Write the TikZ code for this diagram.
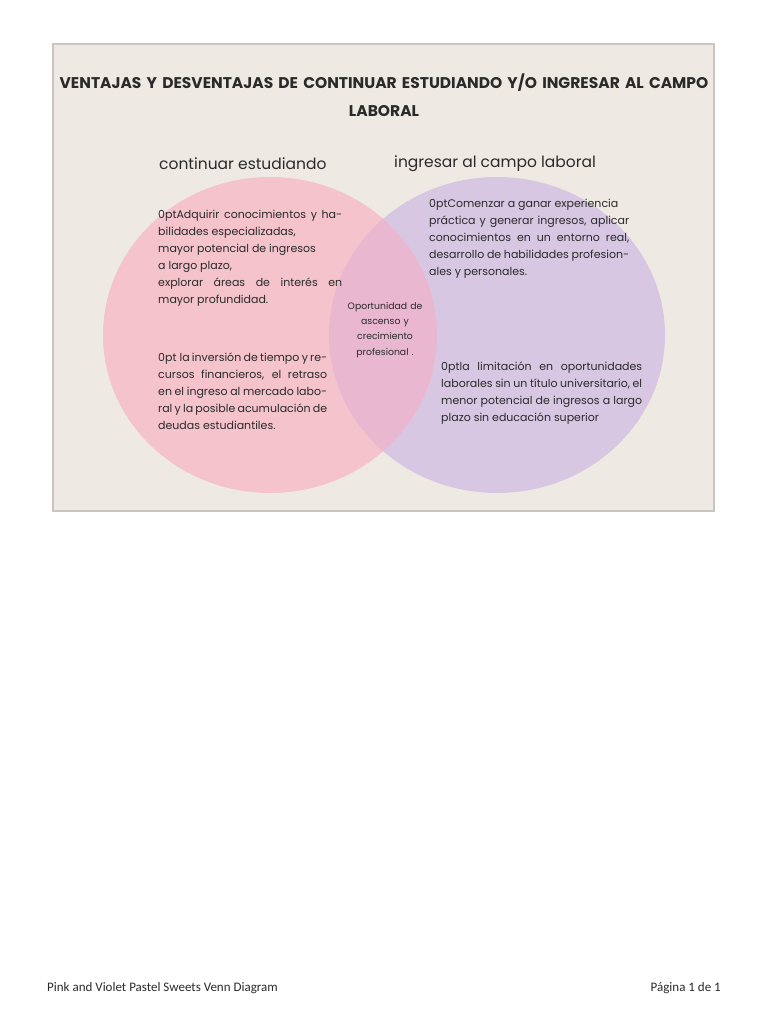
\documentclass[tikz,border=0pt]{standalone}
\usepackage{fontspec}
\setmainfont{Poppins}
\newfontfamily\footfont{Carlito}
\definecolor{beige}{HTML}{EEEAE3}
\definecolor{boxline}{HTML}{C8C6C2}
\definecolor{pinkc}{HTML}{F4C3CC}
\definecolor{violc}{HTML}{D8C7E3}
\definecolor{overc}{HTML}{EAB7D0}
\definecolor{txt}{HTML}{2A2A2A}
\tikzset{
  body/.style={font=\fontsize{11}{17}\selectfont\hyphenpenalty=10000\exhyphenpenalty=10000, text=txt, align=justify, inner sep=0pt, anchor=north west},
  head/.style={font=\fontsize{15.5}{18}\selectfont, text=txt, inner sep=0pt},
}
\begin{document}
\begin{tikzpicture}[x=1pt,y=-1pt]
\useasboundingbox (0,0) rectangle (768,1024);
\fill[white] (0,0) rectangle (768,1024);
\draw[boxline, fill=beige, line width=1.2pt] (53,44) rectangle (714,511);
\node[font=\bfseries\fontsize{15.5}{28}\selectfont, align=center, text=txt, text width=660pt, inner sep=0pt] (title) at (384,95)
 {VENTAJAS Y DESVENTAJAS DE CONTINUAR ESTUDIANDO Y/O INGRESAR AL CAMPO\\LABORAL};
\fill[violc] (497,335) ellipse [x radius=168, y radius=158];
\fill[pinkc] (270,335) ellipse [x radius=167, y radius=158];
\begin{scope}
\clip (497,335) ellipse [x radius=168, y radius=158];
\fill[overc] (270,335) ellipse [x radius=167, y radius=158];
\end{scope}
\node[head, anchor=west] (h1) at (159,164) {continuar estudiando};
\node[head, anchor=west] (h2) at (394,164) {ingresar al campo laboral};
\node[body, text width=184pt] (lt) at (158,210) {Adquirir conocimientos y habilidades especializadas,\\ mayor potencial de ingresos\\ a largo plazo,\\ explorar áreas de interés en mayor profundidad.};
\node[body, text width=169pt] (lb) at (158,353) {\hspace*{3pt}la inversión de tiempo y recursos financieros, el retraso en el ingreso al mercado laboral y la posible acumulación de deudas estudiantiles.};
\node[body, text width=200pt] (rt) at (429,199) {Comenzar a ganar experiencia\\ práctica y generar ingresos, aplicar conocimientos en un entorno real, desarrollo de habilidades profesionales y personales.};
\node[body, text width=201pt] (rb) at (441,362) {la limitación en oportunidades laborales sin un título universitario, el menor potencial de ingresos a largo plazo sin educación superior};
\node[font=\fontsize{9.3}{15.3}\selectfont, text=txt, align=center, text width=100pt, inner sep=0pt] (mid) at (385,330) {Oportunidad de\\ascenso y\\crecimiento\\profesional .};
\node[font=\footfont\fontsize{13}{14}\selectfont, text=txt, anchor=west, inner sep=0pt] (f1) at (47,988) {Pink and Violet Pastel Sweets Venn Diagram};
\node[font=\footfont\fontsize{13}{14}\selectfont, text=txt, anchor=east, inner sep=0pt] (f2) at (721,988) {Página 1 de 1};
\end{tikzpicture}
\end{document}
